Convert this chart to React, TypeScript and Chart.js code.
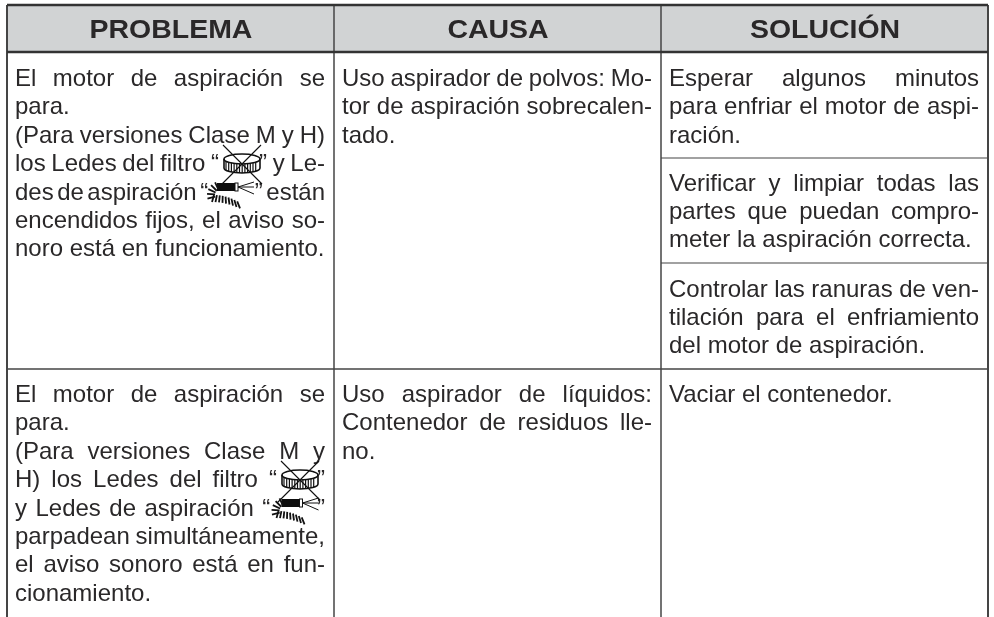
import React, { useEffect, useRef } from "react";
import { Chart, registerables } from "chart.js";

Chart.register(...registerables);

const SP6 = "\u00A0".repeat(6);
const SP7 = "\u00A0".repeat(7);

const headers = ["PROBLEMA", "CAUSA", "SOLUCIÓN"];
const problem1 = [
  ["El motor de aspiración se", "j"],
  ["para.", ""],
  ["(Para versiones Clase M y H)", "j"],
  [`los Ledes del filtro “${SP6}” y Le-`, "j"],
  [`des de aspiración “${SP7}” están`, "j"],
  ["encendidos fijos, el aviso so-", "j"],
  ["noro está en funcionamiento.", ""],
];
const cause1 = [
  ["Uso aspirador de polvos: Mo-", "j"],
  ["tor de aspiración sobrecalen-", "j"],
  ["tado.", ""],
];
const solution1 = [
  ["Esperar algunos minutos", "j"],
  ["para enfriar el motor de aspi-", "j"],
  ["ración.", ""],
];
const solution2 = [
  ["Verificar y limpiar todas las", "j"],
  ["partes que puedan compro-", "j"],
  ["meter la aspiración correcta.", ""],
];
const solution3 = [
  ["Controlar las ranuras de ven-", "j"],
  ["tilación para el enfriamiento", "j"],
  ["del motor de aspiración.", ""],
];
const problem2 = [
  ["El motor de aspiración se", "j"],
  ["para.", ""],
  ["(Para versiones Clase M y", "j"],
  [`H) los Ledes del filtro “${SP6}”`, "j"],
  [`y Ledes de aspiración “${SP7}”`, "j"],
  ["parpadean simultáneamente,", "j"],
  ["el aviso sonoro está en fun-", "j"],
  ["cionamiento.", ""],
];
const cause2 = [
  ["Uso aspirador de líquidos:", "j"],
  ["Contenedor de residuos lle-", "j"],
  ["no.", ""],
];
const solution4 = [["Vaciar el contenedor.", ""]];

const TEXT = "#2a2829";
const LINE = "#454545";
const HEAD = "#333333";

const rule = (x0: number, y0: number, x1: number, y1: number, w: number, c = LINE) => ({
  type: "line" as const,
  data: [{ x: x0, y: y0 }, { x: x1, y: y1 }],
  borderColor: c,
  borderWidth: w,
  pointRadius: 0,
  fill: false,
});

export default function App() {
  const ref = useRef<HTMLCanvasElement>(null);
  useEffect(() => {
    document.body.style.margin = "0";
    const tablePlugin = {
      id: "tableText",
      afterDatasetsDraw(chart: any) {
        const { ctx, scales } = chart;
        const X = (v: number) => scales.x.getPixelForValue(v);
        const Y = (v: number) => scales.y.getPixelForValue(v);
        const put = (t: string, x: number, y: number, hs: number) => {
          ctx.save();
          ctx.translate(x, y);
          ctx.scale(hs, 1);
          ctx.fillText(t, 0, 0);
          ctx.restore();
        };
        ctx.save();
        ctx.fillStyle = TEXT;
        ctx.textBaseline = "alphabetic";
        ctx.font = "bold 25.5px 'Liberation Sans'";
        ctx.textAlign = "center";
        headers.forEach((h, i) => {
          put(h, X([171, 498, 825][i]), Y(38), 1.116);
        });
        ctx.textAlign = "left";
        ctx.font = "23.2px 'Liberation Sans'";
        const HS = 1.035;
        const block = (lines: string[][], left: number, right: number, base: number) => {
          lines.forEach(([t, j], i) => {
            const y = Y(base + i * 28.4);
            if (j !== "j") {
              put(t, X(left), y, HS);
              return;
            }
            const words = t.split(/ +/);
            const tw = words.reduce((s, w) => s + ctx.measureText(w).width * HS, 0);
            const gap = (X(right) - X(left) - tw) / (words.length - 1);
            let cx = X(left);
            words.forEach((w) => {
              put(w, cx, y, HS);
              cx += ctx.measureText(w).width * HS + gap;
            });
          });
        };
        block(problem1, 15, 325, 86);
        block(cause1, 342, 652, 86);
        block(solution1, 669, 979, 86);
        block(solution2, 669, 979, 190.5);
        block(solution3, 669, 979, 296.5);
        block(problem2, 15, 325, 402);
        block(cause2, 342, 652, 402);
        block(solution4, 669, 979, 402);

        const filter = (cx: number, cy: number) => {
          const rx = 18;
          ctx.save();
          ctx.strokeStyle = "#111";
          ctx.lineWidth = 1.6;
          ctx.beginPath();
          ctx.ellipse(X(cx), Y(cy - 8), rx, 5, 0, 0, Math.PI * 2);
          ctx.stroke();
          ctx.beginPath();
          ctx.moveTo(X(cx - rx), Y(cy - 8));
          ctx.lineTo(X(cx - rx), Y(cy + 1));
          ctx.ellipse(X(cx), Y(cy + 1), rx, 5, 0, Math.PI, 0, true);
          ctx.lineTo(X(cx + rx), Y(cy - 8));
          ctx.stroke();
          ctx.lineWidth = 1.2;
          for (let i = -16; i <= 16; i += 2.7) {
            ctx.beginPath();
            const dy = 5 * Math.sqrt(Math.max(0, 1 - (i * i) / (rx * rx)));
            ctx.moveTo(X(cx + i), Y(cy - 8 + dy));
            ctx.lineTo(X(cx + i), Y(cy + 1 + dy));
            ctx.stroke();
          }
          ctx.lineWidth = 1.1;
          ctx.beginPath();
          ctx.moveTo(X(cx - 19), Y(cy - 22));
          ctx.lineTo(X(cx + 20), Y(cy + 17));
          ctx.moveTo(X(cx + 19), Y(cy - 22));
          ctx.lineTo(X(cx - 23), Y(cy + 20));
          ctx.stroke();
          ctx.restore();
        };
        const hose = (cx: number, cy: number) => {
          ctx.save();
          ctx.fillStyle = "#0d0d0d";
          ctx.strokeStyle = "#111";
          ctx.fillRect(X(cx - 10), Y(cy - 4), 18, 8);
          ctx.lineWidth = 1;
          ctx.strokeRect(X(cx + 8), Y(cy - 4), 3, 8);
          [-5, 0, 7].forEach((d) => {
            ctx.beginPath();
            ctx.moveTo(X(cx + 11), Y(cy));
            ctx.lineTo(X(cx + 27), Y(cy + d));
            ctx.stroke();
          });
          ctx.lineWidth = 1.8;
          [165, 185, 205, 225, 245].forEach((deg) => {
            const t = (deg * Math.PI) / 180;
            ctx.beginPath();
            ctx.moveTo(X(cx - 6 + 6 * Math.cos(t)), Y(cy + 8 + 6 * Math.sin(t)));
            ctx.lineTo(X(cx - 6 + 14 * Math.cos(t)), Y(cy + 8 + 14 * Math.sin(t)));
            ctx.stroke();
          });
          for (let k = 0; k < 9; k++) {
            const px = cx - 13 + k * 2.9;
            const py = cy + 8 + k * k * 0.1;
            ctx.beginPath();
            ctx.moveTo(X(px), Y(py));
            ctx.lineTo(X(px + k * 0.6 - 2), Y(py + 7));
            ctx.stroke();
          }
          ctx.restore();
        };
        filter(242, 167);
        hose(227, 187);
        filter(300, 483);
        hose(291.5, 503);
        ctx.restore();
      },
    };
    const chart = new Chart(ref.current!, {
      type: "scatter",
      data: {
        datasets: [
          rule(7, 5, 988, 5, 2.5, HEAD),
          rule(7, 52, 988, 52, 2.5, HEAD),
          rule(7, 5, 7, 617, 2),
          rule(334, 5, 334, 617, 1.5),
          rule(661, 5, 661, 617, 1.5),
          rule(988, 5, 988, 617, 2),
          rule(661, 158, 988, 158, 1.2),
          rule(661, 263, 988, 263, 1.2),
          rule(7, 369, 988, 369, 1.5),
          {
            type: "line",
            data: [{ x: 7, y: 52 }, { x: 988, y: 52 }],
            borderWidth: 0,
            pointRadius: 0,
            backgroundColor: "#d1d3d4",
            fill: { value: 5 },
          },
        ] as any,
      },
      options: {
        animation: false,
        responsive: false,
        layout: { padding: 0 },
        plugins: { legend: { display: false }, tooltip: { enabled: false } },
        scales: {
          x: { type: "linear", min: 0, max: 994, display: false },
          y: { type: "linear", min: 0, max: 617, reverse: true, display: false },
        },
      },
      plugins: [tablePlugin],
    });
    return () => chart.destroy();
  }, []);
  return <canvas ref={ref} width={994} height={617} style={{ display: "block" }} />;
}
